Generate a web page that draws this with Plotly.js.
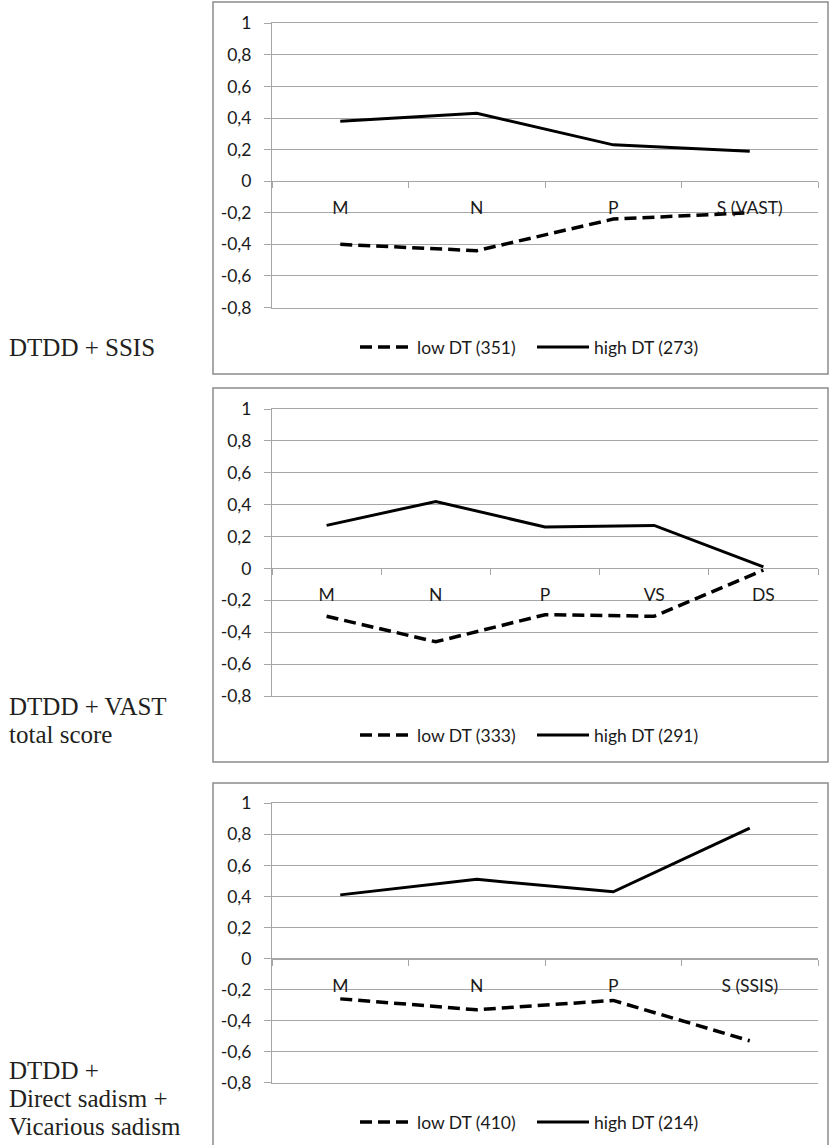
<!DOCTYPE html>
<html>
<head>
<meta charset="utf-8">
<script src="https://cdn.plot.ly/plotly-3.0.1.min.js"></script>
<style>
html,body{margin:0;padding:0;background:#fff;}
#chart{width:831px;height:1145px;}
</style>
</head>
<body>
<div id="chart"></div>
<script>
// ---- data ----
const cats1 = ['M', 'N', 'P', 'S (VAST)'];
const low1 = [-0.40, -0.44, -0.24, -0.20];
const high1 = [0.38, 0.43, 0.23, 0.19];
const names1 = ['low DT (351)', 'high DT (273)'];

const cats2 = ['M', 'N', 'P', 'VS', 'DS'];
const low2 = [-0.30, -0.46, -0.29, -0.30, -0.01];
const high2 = [0.27, 0.42, 0.26, 0.27, 0.01];
const names2 = ['low DT (333)', 'high DT (291)'];

const cats3 = ['M', 'N', 'P', 'S (SSIS)'];
const low3 = [-0.26, -0.33, -0.27, -0.53];
const high3 = [0.41, 0.51, 0.43, 0.84];
const names3 = ['low DT (410)', 'high DT (214)'];

const panelLabels1 = ['DTDD + SSIS'];
const panelLabels2 = ['DTDD + VAST', 'total score'];
const panelLabels3 = ['DTDD +', 'Direct sadism +', 'Vicarious sadism'];

const yTickVals = [-0.8, -0.6, -0.4, -0.2, 0, 0.2, 0.4, 0.6, 0.8, 1];
const yTickText = ['-0,8', '-0,6', '-0,4', '-0,2', '0', '0,2', '0,4', '0,6', '0,8', '1'];
const yRange = [-0.8, 1];

// ---- layout helpers ----
const W = 831, H = 1145;
const px = x => x / W;
const py = y => 1 - y / H;

const FONT = 'Lato, "Open Sans", sans-serif';
const FS = 17.5;
const GRID = '#a6a6a6';
const TXT = '#1a1a1a';

const panels = [
  {cats: cats1, low: low1, high: high1, names: names1, labels: panelLabels1,
   top: 23.3, bottom: 307.5, frameTop: 2, frameBottom: 374, legendY: 347, labelY: [357]},
  {cats: cats2, low: low2, high: high2, names: names2, labels: panelLabels2,
   top: 409, bottom: 696, frameTop: 388, frameBottom: 762, legendY: 735, labelY: [716, 744]},
  {cats: cats3, low: low3, high: high3, names: names3, labels: panelLabels3,
   top: 803.3, bottom: 1082.7, frameTop: 783, frameBottom: 1160, legendY: 1122, labelY: [1080, 1108, 1136]}
];

const xDomain = [px(272), px(818)];
const traces = [];
const layout = {
  width: W, height: H,
  margin: {l: 0, r: 0, t: 0, b: 0},
  paper_bgcolor: '#ffffff', plot_bgcolor: '#ffffff',
  font: {family: FONT, size: FS, color: TXT},
  showlegend: true,
  shapes: [], annotations: []
};

panels.forEach((p, i) => {
  const n = i + 1;
  const sfx = n === 1 ? '' : String(n);
  const xa = 'x' + sfx, ya = 'y' + sfx;
  const lg = 'legend' + sfx;
  const ovId = 'x' + (n + 3);            // overlay axis that carries the category labels at y = 0
  const yDom = [py(p.bottom), py(p.top)];
  const zeroPos = yDom[0] + (0 - yRange[0]) / (yRange[1] - yRange[0]) * (yDom[1] - yDom[0]);

  traces.push({
    type: 'scatter', mode: 'lines', x: p.cats, y: p.low, name: p.names[0],
    xaxis: xa, yaxis: ya, legend: lg,
    line: {color: '#000', width: 3.5, dash: '12px,6px'}
  });
  traces.push({
    type: 'scatter', mode: 'lines', x: p.cats, y: p.high, name: p.names[1],
    xaxis: xa, yaxis: ya, legend: lg,
    line: {color: '#000', width: 3}
  });
  // invisible carrier so the overlay axis is built
  traces.push({
    type: 'scatter', mode: 'lines', x: p.cats, y: p.high, xaxis: ovId, yaxis: ya,
    showlegend: false, hoverinfo: 'skip', line: {color: 'rgba(0,0,0,0)', width: 0}
  });

  // main category axis: no labels, its line + mirror give the -0,8 and 1 gridlines
  layout['xaxis' + sfx] = {
    type: 'category', domain: xDomain, anchor: ya,
    categoryorder: 'array', categoryarray: p.cats,
    range: [-0.5, p.cats.length - 0.5],
    showgrid: false, zeroline: false,
    showline: true, mirror: true, linecolor: GRID, linewidth: 1,
    ticks: '', showticklabels: false, fixedrange: true
  };
  // overlay category axis drawn at y = 0, like the source chart
  layout['xaxis' + (n + 3)] = {
    type: 'category', overlaying: xa, domain: xDomain, anchor: 'free', position: zeroPos,
    categoryorder: 'array', categoryarray: p.cats,
    range: [-0.5, p.cats.length - 0.5],
    showgrid: false, zeroline: false,
    showline: true, linecolor: GRID, linewidth: 1,
    ticks: 'outside', tickson: 'boundaries', ticklen: 6, tickcolor: GRID, tickwidth: 1,
    ticklabelstandoff: 11,
    tickfont: {family: FONT, size: FS, color: TXT},
    fixedrange: true
  };
  layout['yaxis' + sfx] = {
    domain: yDom, anchor: xa, range: yRange,
    tickmode: 'array', tickvals: yTickVals, ticktext: yTickText,
    showgrid: true, gridcolor: GRID, gridwidth: 1,
    zeroline: false,
    showline: true, linecolor: GRID, linewidth: 1,
    ticks: 'outside', ticklen: 7, tickcolor: GRID, tickwidth: 1,
    ticklabelstandoff: 9,
    tickfont: {family: FONT, size: FS, color: TXT},
    fixedrange: true
  };
  layout[lg] = {
    orientation: 'h', x: px(355), xanchor: 'left', y: py(p.legendY), yanchor: 'middle',
    xref: 'paper', yref: 'paper',
    font: {family: FONT, size: FS, color: TXT},
    bgcolor: 'rgba(0,0,0,0)', itemwidth: 52, entrywidth: 110, entrywidthmode: 'pixels',
    tracegroupgap: 0, traceorder: 'normal'
  };

  layout.shapes.push({
    type: 'rect', xref: 'paper', yref: 'paper', layer: 'below',
    x0: px(213), x1: px(828), y0: py(p.frameBottom), y1: py(p.frameTop),
    line: {color: '#8c8c8c', width: 1.5}
  });

  p.labels.forEach((t, k) => {
    layout.annotations.push({
      text: t, xref: 'paper', yref: 'paper', x: px(7), y: py(p.labelY[k]),
      xanchor: 'left', yanchor: 'bottom', yshift: -6, showarrow: false,
      font: {family: '"Liberation Serif", "DejaVu Serif", serif', size: 25, color: '#231f20'}
    });
  });
});

Plotly.newPlot('chart', traces, layout, {displayModeBar: false});
</script>
</body>
</html>
